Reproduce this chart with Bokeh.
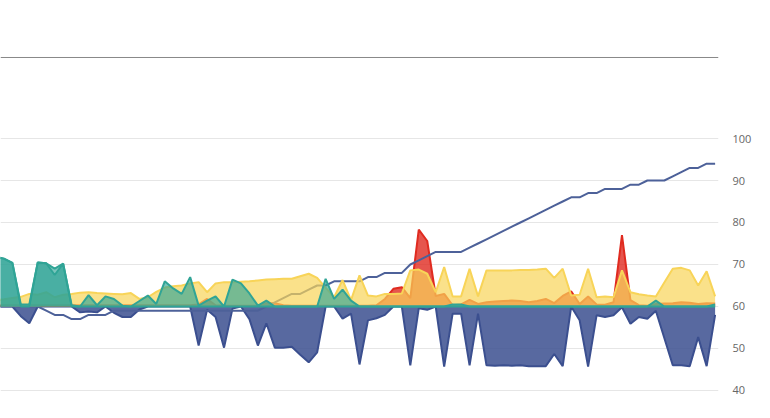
from bokeh.plotting import figure
from bokeh.models import Range1d, FixedTicker, ColumnDataSource, Span
from bokeh.embed import file_html
from bokeh.resources import INLINE

# ---- data ----
idx = list(range(86))
baseline = 60

line_vals = [60, 60, 60, 60, 60, 60, 59, 58, 58, 57,
             57, 58, 58, 58, 59, 59, 59, 59, 59, 59,
             59, 59, 59, 59, 59, 59, 59, 59, 59, 59,
             59, 59, 60, 61, 62, 63, 63, 64, 65, 65,
             66, 66, 66, 66, 67, 67, 68, 68, 68, 70,
             71, 72, 73, 73, 73, 73, 74, 75, 76, 77,
             78, 79, 80, 81, 82, 83, 84, 85, 86, 86,
             87, 87, 88, 88, 88, 89, 89, 90, 90, 90,
             91, 92, 93, 93, 94, 94]

navy_vals = [60, 60, 60, 57.7, 56, 60, 60, 60, 60, 60,
             58.6, 58.8, 58.6, 60, 58.5, 57.5, 57.5, 59.3, 60, 60,
             60, 60, 60, 60, 50.7, 59.2, 57.5, 50.2, 59.5, 60,
             57, 50.7, 56, 50.2, 50.2, 50.4, 48.5, 46.7, 49.1, 60,
             60, 57.1, 58.3, 46.2, 56.7, 57.2, 58, 60, 60, 46,
             59.6, 59.2, 60, 45.7, 58.3, 58.3, 46, 58.3, 46, 45.9,
             46, 45.9, 46, 45.8, 45.8, 45.8, 48.7, 45.8, 60, 56.7,
             45.7, 57.9, 57.5, 57.9, 59.8, 55.9, 57.5, 57.1, 59, 52.5,
             46, 46, 45.8, 52.7, 45.8, 58]

red_vals = [60.3, 60.3, 60.3, 60.3, 60.3, 60.3, 60.3, 60.3, 60.3, 60.3,
            60.3, 60.3, 60.3, 60.3, 60.3, 60.3, 60.3, 60.3, 60.3, 60.3,
            60.3, 60.3, 60.3, 60.3, 60.5, 61.8, 60.3, 60.2, 60.2, 60.2,
            60.2, 60.2, 60.8, 60.8, 60.3, 60.2, 60.2, 60.2, 60.2, 60.2,
            60.2, 60.2, 60.2, 60.2, 60.2, 60.3, 61.8, 64.2, 64.6, 62,
            78.3, 75.6, 62.5, 63, 60.3, 60.5, 61.6, 60.6, 61, 61.2,
            61.3, 61.4, 61.3, 61, 61.3, 61.8, 60.8, 62.5, 63.6, 60.6,
            62.4, 60.5, 60.4, 61, 77, 61.5, 60.3, 60.2, 60.6, 60.7,
            60.8, 61, 60.9, 60.6, 60.8, 60.7]

yellow_vals = [61.5, 61.7, 62, 62.3, 63, 62.8, 63.4, 62.2, 62.8, 63,
               63.3, 63.4, 63.2, 63.1, 63, 62.9, 63.2, 61.8, 62.2, 63.5,
               64.5, 64.8, 65, 65.5, 65.8, 63.4, 65.5, 65.8, 65.8, 65.9,
               66, 66.2, 66.4, 66.5, 66.6, 66.6, 67.2, 67.8, 66.8, 64.5,
               62.2, 66.3, 61.5, 67.4, 62.6, 62.4, 63, 63, 63.1, 68.6,
               68.8, 67.8, 63.4, 69.4, 62.4, 62.4, 69, 62.4, 68.6, 68.6,
               68.6, 68.6, 68.7, 68.7, 68.8, 69, 66.8, 69, 62.6, 62.8,
               69, 62.2, 62.4, 62.2, 68.6, 63.4, 62.9, 62.6, 62.4, 65.7,
               69, 69.2, 68.6, 65, 68.4, 62.4]

teal_vals = [71.8, 71.4, 70.4, 60.5, 60.5, 70.5, 70.3, 69, 70.2, 60.3,
             60, 62.7, 60.3, 62.4, 61.8, 60.2, 60, 61.3, 62.6, 60.6,
             66, 64.3, 63, 67, 60.2, 61.4, 62.4, 60, 66.4, 65.5,
             63.1, 60.2, 61.4, 60, 60, 60, 60, 60, 60, 66.6,
             61.8, 64, 61.4, 60, 60, 60, 60, 60, 60, 60,
             60, 60, 60, 60, 60.5, 60.5, 60, 60, 60, 60,
             60, 60, 60, 60, 60, 60, 60, 60, 60, 60,
             60, 60, 60, 60, 60, 60, 60, 60, 61.4, 60,
             60, 60, 60, 60, 60, 60.5]

teal2_vals = [71.8, 71.4, 70.4, 60, 60, 70.5, 70.3, 67.5, 70.2, 60] + [60] * 76

y_ticks = [40, 50, 60, 70, 80, 90, 100]
top_rule = 119.29

NAVY = "#3b4f8f"
RED = "#e02b20"
BLUE = "#4d6199"
YELLOW = "#f8d458"
TEAL = "#30a496"

src = ColumnDataSource(dict(x=idx, base=[baseline] * len(idx), line=line_vals,
                            navy=navy_vals, red=red_vals, yellow=yellow_vals,
                            teal=teal_vals, teal2=teal2_vals))

p = figure(width=754, height=402, x_range=Range1d(0.6, 85.4),
           y_range=Range1d(37.14, 132.86), y_axis_location="right",
           x_axis_location=None, toolbar_location=None, output_backend="svg",
           min_border_left=0, min_border_top=0, min_border_bottom=0, min_border_right=0)
p.outline_line_color = None
p.background_fill_color = "white"
p.border_fill_color = "white"
p.xgrid.visible = False
p.ygrid.ticker = FixedTicker(ticks=y_ticks)
p.ygrid.grid_line_color = "#e6e6e6"
p.ygrid.grid_line_width = 1
p.yaxis.ticker = FixedTicker(ticks=y_ticks)
p.yaxis.axis_line_color = None
p.yaxis.major_tick_line_color = None
p.yaxis.minor_tick_line_color = None
p.yaxis.major_label_standoff = 8
p.yaxis.major_label_text_font = "Open Sans"
p.yaxis.major_label_text_font_size = "11px"
p.yaxis.major_label_text_color = "#666666"

p.add_layout(Span(location=top_rule, dimension="width", line_color="#888888", line_width=1))

p.varea(x="x", y1="navy", y2="base", source=src, fill_color=NAVY, fill_alpha=0.85)
p.line("x", "navy", source=src, line_color=NAVY, line_width=2)
p.varea(x="x", y1="base", y2="red", source=src, fill_color=RED, fill_alpha=0.8)
p.line("x", "red", source=src, line_color=RED, line_width=2)
p.line("x", "line", source=src, line_color=BLUE, line_width=2)
p.varea(x="x", y1="base", y2="yellow", source=src, fill_color=YELLOW, fill_alpha=0.7)
p.line("x", "yellow", source=src, line_color=YELLOW, line_width=2)
p.varea(x="x", y1="base", y2="teal2", source=src, fill_color=TEAL, fill_alpha=0.65)
p.line("x", "teal2", source=src, line_color=TEAL, line_width=2)
p.varea(x="x", y1="base", y2="teal", source=src, fill_color=TEAL, fill_alpha=0.65)
p.line("x", "teal", source=src, line_color=TEAL, line_width=2)

open("out.html", "w").write(file_html(p, INLINE))
